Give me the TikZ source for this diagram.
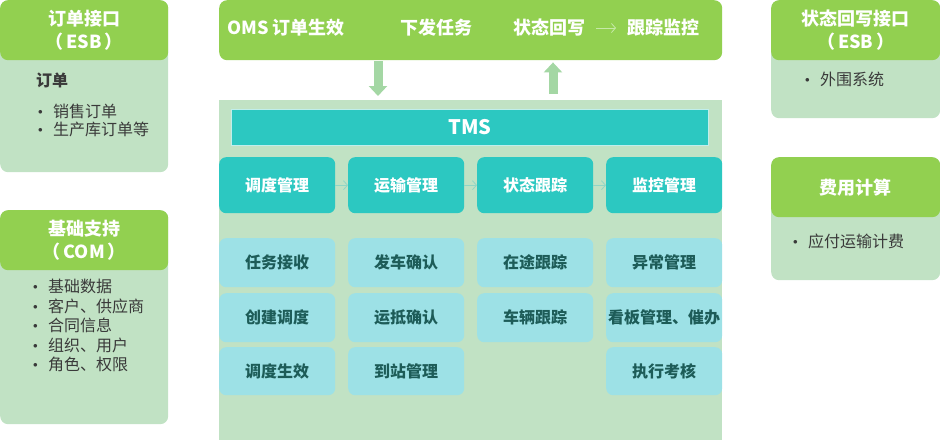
\documentclass[tikz,border=0pt]{standalone}
\usepackage{fontspec}
\setmainfont{Noto Sans CJK SC}
\usepackage{tikz}
\usetikzlibrary{arrows.meta}

\definecolor{hdrgreen}{HTML}{92D050}
\definecolor{paleg}{HTML}{C1E2C4}
\definecolor{teal1}{HTML}{2CC8C1}
\definecolor{cyan1}{HTML}{9DE1E6}
\definecolor{tasktext}{HTML}{1D5C58}
\definecolor{txtgray}{HTML}{3A3A3A}
\definecolor{arrowg}{HTML}{A4D7A4}
\definecolor{flowc}{HTML}{8FD6C6}
\definecolor{topflow}{HTML}{C6E9A8}

\newcommand{\itm}{\makebox[15pt][l]{\raisebox{3pt}{\fontsize{9}{9}\selectfont$\bullet$}}}

\begin{document}
\begin{tikzpicture}[x=1pt,y=-1pt,
    hdr/.style={fill=hdrgreen, rounded corners=8pt, text=white, align=center,
        font=\bfseries\fontsize{18}{23}\selectfont, anchor=north west, inner sep=0pt},
    pane/.style={fill=paleg, rounded corners=8pt, anchor=north west, inner sep=0pt},
    item/.style={text=txtgray, align=left, anchor=north west, inner sep=0pt},
    toptext/.style={text=white, font=\bfseries\fontsize{18}{22}\selectfont, anchor=west, inner sep=0pt},
    module/.style={fill=teal1, rounded corners=7pt, minimum width=116pt, minimum height=56pt,
        text=white, font=\bfseries\fontsize{16}{18}\selectfont, anchor=north west, inner sep=0pt},
    task/.style={fill=cyan1, rounded corners=7pt, minimum width=116pt, minimum height=49pt,
        text=tasktext, font=\bfseries\fontsize{16}{18}\selectfont, anchor=north west, inner sep=0pt},
    flow/.style={draw=flowc, line width=0.8pt, -{Straight Barb[length=4pt,width=9pt]}},
    bigarrow/.style={draw=arrowg, line width=9pt, -{Triangle[width=18pt,length=10pt]}}]
\useasboundingbox (0,0) rectangle (940,440);

% left side
\node[pane, minimum width=168pt, minimum height=172pt] (ordpane) at (0,0) {};
\node[hdr, minimum width=168pt, minimum height=60pt] (ordhdr) at (0,0) {订单接口\\（\,ESB\,）};
\node[item, anchor=west, font=\bfseries\fontsize{16}{18}\selectfont] (ordtitle) at (36,80) {订单};
\node[item, font=\fontsize{16}{18}\selectfont] (ordlist) at (38,104)
    {\itm 销售订单\\ \itm 生产库订单等};

\node[pane, minimum width=168pt, minimum height=214pt] (compane) at (0,210) {};
\node[hdr, minimum width=168pt, minimum height=60pt] (comhdr) at (0,210) {基础支持\\（\,COM\,）};
\node[item, font=\fontsize{16}{19.5}\selectfont] (comlist) at (33,279)
    {\itm 基础数据\\ \itm 客户、供应商\\ \itm 合同信息\\ \itm 组织、用户\\ \itm 角色、权限};

% right side
\node[pane, minimum width=169pt, minimum height=118pt] (backpane) at (771,0) {};
\node[hdr, minimum width=169pt, minimum height=60pt] (backhdr) at (771,0) {状态回写接口\\（\,ESB\,）};
\node[item, font=\fontsize{16}{18}\selectfont] (backlist) at (805,72) {\itm 外围系统};

\node[pane, minimum width=169pt, minimum height=123pt] (feepane) at (771,157) {};
\node[hdr, minimum width=169pt, minimum height=60pt] (feehdr) at (771,157) {费用计算};
\node[item, font=\fontsize{16}{18}\selectfont] (feelist) at (793,234) {\itm 应付运输计费};

% OMS bar
\node[hdr, minimum width=503pt, minimum height=60pt] (oms) at (219,0) {};
\node[toptext] (omsa) at (227,28) {OMS 订单生效};
\node[toptext] (omsb) at (400,28) {下发任务};
\node[toptext] (omsc) at (513,28) {状态回写};
\node[toptext] (omsd) at (627,28) {跟踪监控};
\draw[draw=topflow, line width=0.8pt, -{Straight Barb[length=4pt,width=9pt]},
    shorten <=11pt, shorten >=11pt] (omsc) -- (omsd);

% TMS
\node[fill=paleg, minimum width=503pt, minimum height=340pt, anchor=north west, inner sep=0pt] (tms) at (219,100) {};
\node[fill=teal1, draw=white!70!teal1, line width=1pt, minimum width=477pt, minimum height=36pt,
    anchor=north west, inner sep=0pt, text=white, font=\bfseries\fontsize{20}{24}\selectfont] (tmsbar) at (231,109) {TMS};

\coordinate (dnx) at (378,0);
\coordinate (upx) at (553,0);
\draw[bigarrow] ([yshift=-1pt]oms.south -| dnx) -- ([yshift=4pt]tms.north -| dnx);
\draw[bigarrow] ([yshift=6pt]tms.north -| upx) -- ([yshift=-2pt]oms.south -| upx);

\node[module] (disp) at (219,157) {调度管理};
\node[module] (trans) at (348,157) {运输管理};
\node[module] (track) at (477,157) {状态跟踪};
\node[module] (mon) at (606,157) {监控管理};
\foreach \a/\b in {disp/trans,trans/track,track/mon}
    \draw[flow] (\a) -- (\b);

\node[task] (recv) at (219,238) {任务接收};
\node[task] (create) at (219,293) {创建调度};
\node[task, minimum height=48pt] (valid) at (219,347) {调度生效};
\node[task] (depart) at (348,238) {发车确认};
\node[task] (arrive) at (348,293) {运抵确认};
\node[task, minimum height=48pt] (station) at (348,347) {到站管理};
\node[task] (onway) at (477,238) {在途跟踪};
\node[task] (truck) at (477,293) {车辆跟踪};
\node[task] (excep) at (606,238) {异常管理};
\node[task] (board) at (606,293) {看板管理、催办};
\node[task, minimum height=48pt] (audit) at (606,347) {执行考核};
\end{tikzpicture}
\end{document}
